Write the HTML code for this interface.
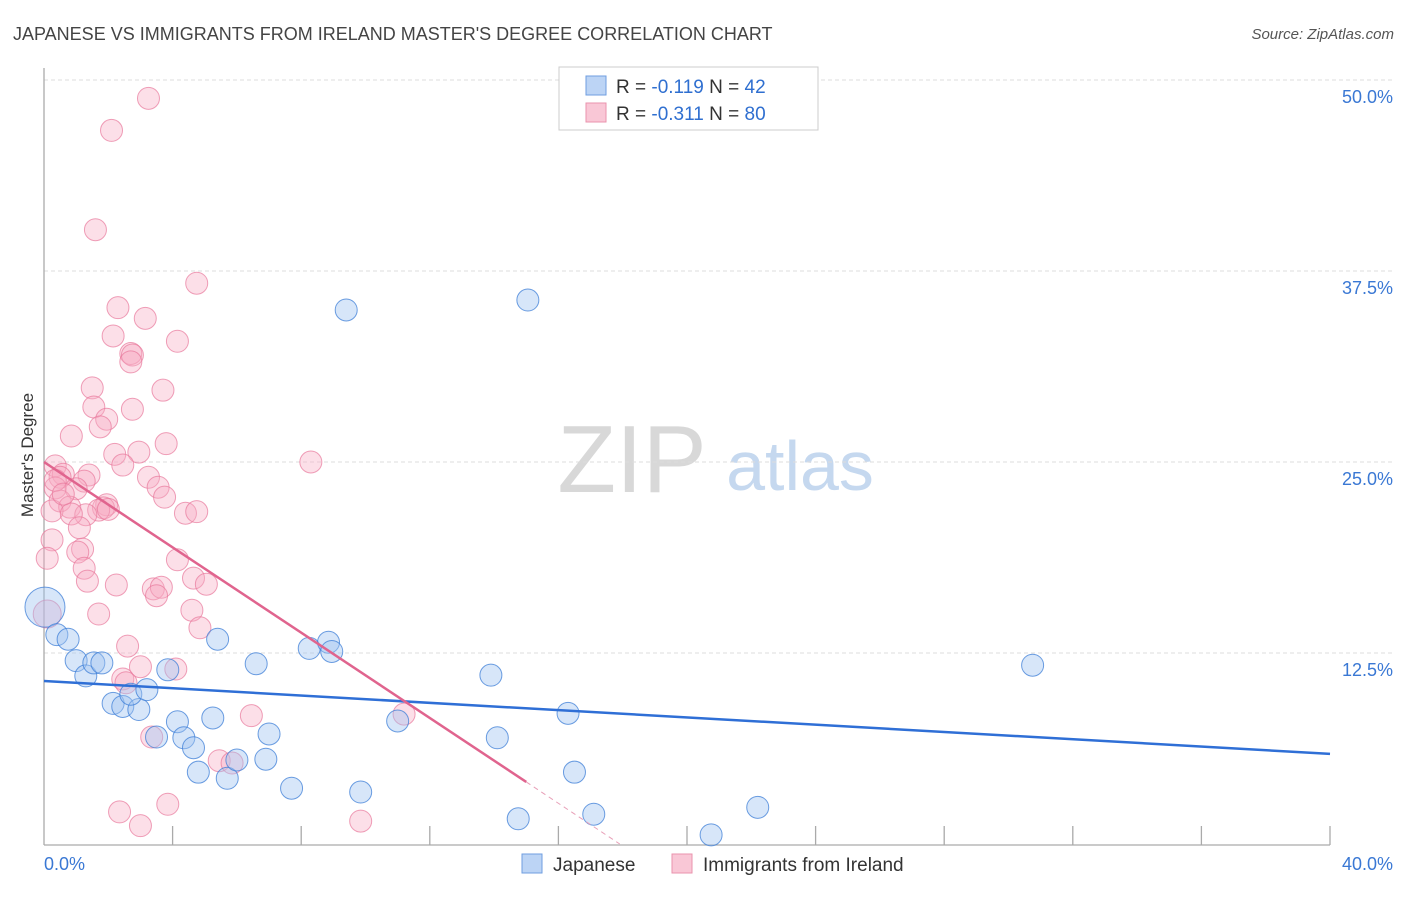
<!DOCTYPE html>
<html><head><meta charset="utf-8"><style>
body{margin:0;background:#fff;font-family:"Liberation Sans",sans-serif;}
svg text{font-family:"Liberation Sans",sans-serif;}
</style></head><body>
<svg id="chart" width="1406" height="892" viewBox="0 0 1406 892" xmlns="http://www.w3.org/2000/svg">
<text x="13" y="40" font-size="18" fill="#444">JAPANESE VS IMMIGRANTS FROM IRELAND MASTER'S DEGREE CORRELATION CHART</text>
<text x="1394" y="39" font-size="15" fill="#555" font-style="italic" text-anchor="end">Source: ZipAtlas.com</text>
<text x="632" y="492" font-size="96" fill="#d8d8d8" font-family="Liberation Serif" text-anchor="middle">ZIP</text>
<text x="800" y="490" font-size="70" fill="#c5d8ef" text-anchor="middle">atlas</text>
<g id="grid"></g>
<g id="axes"></g>
<g id="pts"></g>
<g id="lines"></g>
<text transform="translate(33,455) rotate(-90)" font-size="17" fill="#333" text-anchor="middle">Master's Degree</text>
<g>
<rect x="559" y="67" width="259" height="63" fill="#fff" stroke="#ccc"/>
<rect x="586" y="76" width="20" height="19" fill="#bcd4f5" stroke="#6f9ee0"/>
<rect x="586" y="103" width="20" height="19" fill="#f9c7d6" stroke="#ea93ad"/>
<text x="616" y="93" font-size="19" fill="#333">R = <tspan fill="#2f6fd0">-0.119</tspan>   N = <tspan fill="#2f6fd0">42</tspan></text>
<text x="616" y="120" font-size="19" fill="#333">R = <tspan fill="#2f6fd0">-0.311</tspan>   N = <tspan fill="#2f6fd0">80</tspan></text>
</g>
<g>
<rect x="522" y="854" width="20" height="19" fill="#bcd4f5" stroke="#6f9ee0"/>
<text x="553" y="871" font-size="19" fill="#333">Japanese</text>
<rect x="672" y="854" width="20" height="19" fill="#f9c7d6" stroke="#ea93ad"/>
<text x="703" y="871" font-size="19" fill="#333">Immigrants from Ireland</text>
</g>
</svg>
<script>
const xTicks=[0,40];
const yTicks=[12.5,25,37.5,50];
const blueX=[0.03,0.4,0.75,1.0,1.3,1.55,1.8,2.15,2.45,2.95,2.7,3.2,3.5,3.85,4.15,4.35,4.65,4.8,5.25,5.4,5.7,6.0,6.6,6.9,7.0,7.7,8.25,8.85,8.95,9.4,9.85,11.0,13.9,14.1,14.75,15.05,16.3,16.5,17.1,20.75,22.2,30.75];
const blueY=[15.5,13.7,13.4,12.0,11.0,11.85,11.85,9.2,9.0,8.8,9.8,10.1,7.0,11.4,8.0,6.95,6.3,4.7,8.25,13.4,4.3,5.5,11.8,5.55,7.2,3.65,12.8,13.2,12.6,34.95,3.4,8.05,11.05,6.95,1.65,35.6,8.55,4.7,1.95,0.6,2.4,11.7];
const pinkX=[3.25,2.1,1.6,4.75,2.3,3.15,2.15,4.15,2.7,2.75,2.7,1.5,3.7,1.55,2.75,1.95,1.75,0.85,3.8,2.95,2.2,2.45,8.3,0.35,0.6,1.4,0.5,3.25,1.25,0.35,1.0,3.55,3.75,0.5,1.95,0.8,1.85,1.7,2.0,0.25,1.3,0.85,4.4,4.75,1.1,0.25,1.2,1.05,4.15,0.1,1.25,4.65,1.35,2.25,5.05,3.4,3.65,3.5,4.6,1.7,0.1,4.85,2.6,3.0,4.1,2.45,2.55,6.45,11.2,3.35,5.45,5.85,2.35,3.85,3.0,9.85,0.35,0.6];
const pinkY=[48.8,46.7,40.2,36.7,35.1,34.4,33.25,32.9,32.1,32.0,31.55,29.85,29.7,28.6,28.45,27.8,27.3,26.7,26.2,25.65,25.5,24.8,25.0,24.75,24.2,24.15,24.0,24.0,23.75,23.3,23.25,23.35,22.7,22.45,22.2,22.05,22.0,21.85,21.9,21.8,21.55,21.6,21.65,21.75,20.7,19.9,19.3,19.1,18.6,18.7,18.05,17.4,17.2,16.95,17.0,16.7,16.8,16.25,15.3,15.05,15.05,14.15,12.95,11.6,11.45,10.8,10.55,8.4,8.5,7.0,5.45,5.3,2.1,2.6,1.2,1.5,23.8,22.9];
const blueTrend=[10.67,5.9];
const pinkTrend=[25.0,-1.396];
const NS="http://www.w3.org/2000/svg";
const X=v=>44+v*32.15, Y=v=>844-v*15.28;
function mk(t,a,p){const e=document.createElementNS(NS,t);for(const k in a)e.setAttribute(k,a[k]);p.appendChild(e);return e;}
const grid=document.getElementById('grid'),axes=document.getElementById('axes'),pts=document.getElementById('pts'),lines=document.getElementById('lines');
yTicks.forEach(v=>{
 const l=mk('line',{x1:44,x2:1393,y1:Y(v),y2:Y(v),stroke:'#ddd','stroke-dasharray':'4,3'},grid);
 
 
 const t=mk('text',{x:1393,y:Y(v)+23,'font-size':18,fill:'#3a78d4','text-anchor':'end'},grid);
 t.textContent=v.toFixed(1)+'%';
 
 
});
mk('line',{x1:44,x2:44,y1:68,y2:845,stroke:'#aaa','stroke-width':1.3},axes);
mk('line',{x1:44,x2:1330,y1:845,y2:845,stroke:'#aaa','stroke-width':1.3},axes);
for(let i=1;i<=10;i++){const tk=mk('line',{x1:X(i*4),x2:X(i*4),y1:826,y2:845,stroke:'#aaa','stroke-width':1.3},axes);
 
 }
xTicks.forEach((v,i)=>{const t=mk('text',{x:i?1393:44,y:870,'font-size':18,fill:'#3a78d4','text-anchor':i?'end':'start'},axes);
 t.textContent=v.toFixed(1)+'%';
 
 });
pinkX.forEach((x,i)=>{const c=mk('circle',{cx:X(x),cy:Y(pinkY[i]),r:(x<0.2&&pinkY[i]<16)?14:11,fill:'rgba(246,170,195,0.38)',stroke:'rgba(232,120,155,0.7)','stroke-width':1},pts);
 
 });
blueX.forEach((x,i)=>{const c=mk('circle',{cx:X(x),cy:Y(blueY[i]),r:i===0?20:11,fill:'rgba(160,196,240,0.42)',stroke:'rgba(60,125,215,0.75)','stroke-width':1},pts);
 
 });
const bl=mk('line',{x1:X(0),y1:Y(blueTrend[0]),x2:X(40),y2:Y(blueTrend[1]),stroke:'#2f6fd6','stroke-width':2.5},lines);


const pf=x=>pinkTrend[0]+pinkTrend[1]*x;
const pl=mk('line',{x1:X(0),y1:Y(pf(0)),x2:X(15),y2:Y(pf(15)),stroke:'#e0648e','stroke-width':2.5},lines);


const z=-pinkTrend[0]/pinkTrend[1];
const pd=mk('line',{x1:X(15),y1:Y(pf(15)),x2:X(z),y2:Y(0),stroke:'#e8a0b8','stroke-width':1,'stroke-dasharray':'5,4'},lines);


</script>
</body></html>
